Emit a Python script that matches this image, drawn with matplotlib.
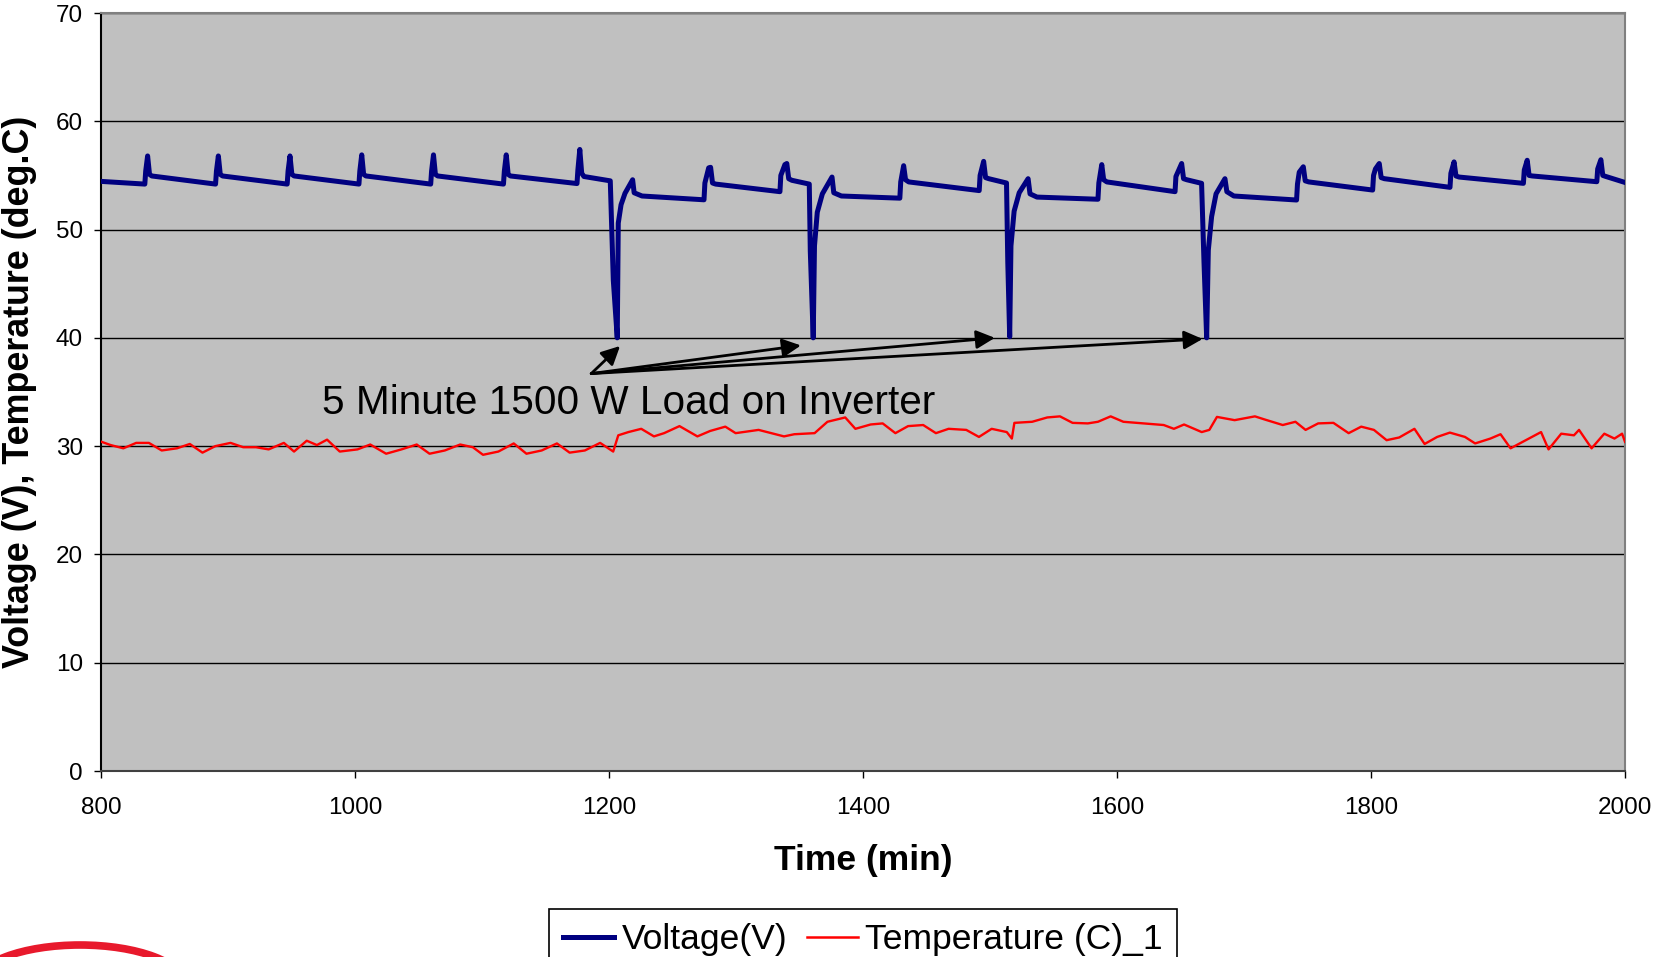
import matplotlib
matplotlib.use("Agg")
import matplotlib.pyplot as plt
from matplotlib.patches import Ellipse

plt.rcParams['font.family'] = ['Liberation Sans', 'DejaVu Sans']

# voltage trace, vertices
volt_time = [
    800, 834.5, 835.2, 836.7, 838.2, 840,
    890.2, 890.9, 892.4, 893.9, 895.7,
    946.6, 947.3, 948.8, 950.3, 952.1,
    1003.1, 1003.8, 1005.3, 1006.8, 1008.6,
    1059.6, 1060.3, 1061.8, 1063.3, 1065.1,
    1116.9, 1117.6, 1119.1, 1120.6, 1122.4,
    1174.8, 1175.5, 1177, 1178.5, 1180.3, 1201,
    1203.4, 1206.5, 1207.3, 1209.5, 1212.6, 1218.6, 1219.8, 1226,
    1274.8, 1275.5, 1278.5, 1280, 1281.5, 1284,
    1334.6, 1335.3, 1338.5, 1340, 1341.5, 1344, 1357.7,
    1358.5, 1360.8, 1361.8, 1364, 1368, 1375.6, 1377, 1383,
    1429, 1429.7, 1432, 1433.5, 1436,
    1491.5, 1492.2, 1495, 1496.5, 1499, 1513,
    1514, 1515.5, 1516.5, 1519, 1523, 1530, 1531.5, 1537,
    1585, 1585.7, 1588, 1589.5, 1592,
    1645.7, 1646.4, 1650.9, 1652.4, 1655, 1666.6,
    1668.5, 1670.6, 1671.9, 1674.5, 1678, 1685, 1686.5, 1692,
    1741.4, 1742.1, 1743.5, 1746.7, 1748.2, 1751,
    1801.3, 1802, 1803.5, 1806.5, 1808, 1810.5,
    1862.2, 1862.9, 1865.4, 1866.9, 1869.4,
    1920, 1920.7, 1923, 1924.5, 1927,
    1977.8, 1978.5, 1981, 1982.5, 1985, 2000,
]
volt_value = [
    54.45, 54.2, 55.4, 56.8, 55.1, 54.95,
    54.2, 55.4, 56.8, 55.1, 54.95,
    54.2, 55.4, 56.8, 55.1, 54.95,
    54.2, 55.4, 56.9, 55.1, 54.95,
    54.2, 55.4, 56.9, 55.1, 54.95,
    54.2, 55.4, 56.9, 55.1, 54.95,
    54.25, 55.5, 57.4, 55.2, 54.9, 54.5,
    45.3, 40.0, 50.6, 52.3, 53.35, 54.6, 53.4, 53.1,
    52.75, 54.3, 55.7, 55.75, 54.3, 54.2,
    53.5, 55.0, 56.0, 56.1, 54.7, 54.55, 54.2,
    48.0, 40.0, 48.5, 51.6, 53.3, 54.85, 53.4, 53.1,
    52.9, 54.4, 55.9, 54.6, 54.4,
    53.6, 55.0, 56.3, 54.8, 54.7, 54.3,
    47.0, 40.1, 48.5, 51.7, 53.4, 54.7, 53.3, 53.0,
    52.8, 54.3, 56.0, 54.6, 54.4,
    53.5, 54.9, 56.1, 54.7, 54.6, 54.27,
    47.0, 40.0, 48.1, 51.2, 53.3, 54.7, 53.5, 53.1,
    52.73, 54.2, 55.3, 55.8, 54.5, 54.4,
    53.65, 55.0, 55.6, 56.1, 54.8, 54.7,
    53.9, 55.2, 56.25, 54.95, 54.85,
    54.27, 55.5, 56.4, 55.0, 54.95,
    54.42, 55.6, 56.45, 55.0, 54.9, 54.35,
]

# temperature trace
temp_time = [
    800.4, 807.6, 817.6, 827.7, 837.7, 847.8, 859.8, 869.9, 879.9, 890,
    902, 912, 922, 932, 944, 952, 962, 970, 978, 988,
    1002, 1012, 1024.5, 1036.6, 1048.6, 1058.7, 1070.7, 1082.8, 1092.8, 1100.8,
    1112.9, 1125, 1135, 1147, 1159, 1169, 1181, 1193, 1203.3, 1207.3,
    1215.3, 1225.4, 1235.4, 1243.4, 1255.5, 1269.6, 1279.6, 1291.6, 1299.7, 1305.7,
    1317.8, 1327.8, 1337.8, 1345.9, 1361.9, 1372, 1386, 1394, 1406, 1415.5,
    1425.5, 1435.5, 1447.4, 1457.4, 1467.4, 1481.3, 1491.3, 1501.3, 1513.2, 1517.2,
    1519.2, 1533.2, 1545.1, 1555.1, 1565, 1577, 1585, 1595, 1605, 1620.9,
    1636.8, 1644.8, 1652.8, 1666.7, 1672.7, 1678.7, 1692.6, 1708.6, 1716.6, 1730.5,
    1740.5, 1748.5, 1758.4, 1770.4, 1782.4, 1792.3, 1802.3, 1812.3, 1822.2, 1834.2,
    1842.2, 1852.1, 1862.1, 1874, 1882, 1894, 1902, 1909.9, 1921.9, 1933.9,
    1939.8, 1949.8, 1959.8, 1963.8, 1973.7, 1983.7, 1991.7, 1997.7, 2000,
]
temp_value = [
    30.4, 30.1, 29.8, 30.3, 30.3, 29.6, 29.8, 30.2, 29.4, 30.0,
    30.3, 29.9, 29.9, 29.7, 30.3, 29.5, 30.5, 30.1, 30.6, 29.5,
    29.7, 30.15, 29.3, 29.7, 30.15, 29.3, 29.6, 30.15, 29.9, 29.2,
    29.5, 30.25, 29.3, 29.6, 30.25, 29.4, 29.6, 30.3, 29.5, 31.0,
    31.3, 31.6, 30.9, 31.2, 31.85, 30.9, 31.4, 31.8, 31.2, 31.3,
    31.5, 31.2, 30.9, 31.1, 31.2, 32.25, 32.65, 31.6, 32.0, 32.1,
    31.2, 31.85, 31.95, 31.2, 31.6, 31.5, 30.85, 31.6, 31.3, 30.7,
    32.15, 32.25, 32.65, 32.75, 32.15, 32.1, 32.25, 32.75, 32.25, 32.1,
    31.95, 31.6, 32.0, 31.3, 31.5, 32.7, 32.4, 32.75, 32.45, 31.95,
    32.25, 31.5, 32.1, 32.15, 31.2, 31.8, 31.5, 30.55, 30.8, 31.6,
    30.2, 30.85, 31.25, 30.85, 30.25, 30.7, 31.1, 29.8, 30.55, 31.3,
    29.7, 31.15, 31.0, 31.5, 29.8, 31.15, 30.7, 31.15, 30.4,
]

# arrow tips at the bottom of each load dip, and the common origin
arrow_origin = (1186, 36.7)
arrow_tips = [(1208.7, 39.25), (1351.1, 39.3), (1503.8, 40.0), (1667.4, 39.9)]

fig = plt.figure(figsize=(16.54, 9.57), dpi=100)
ax = fig.add_axes([101 / 1654, 1 - 771 / 957, 1524 / 1654, 758 / 957])
ax.set_facecolor('#C0C0C0')

ax.plot(volt_time, volt_value, color='#000080', lw=3.6, label='Voltage(V)', zorder=3,
        solid_joinstyle='round')
ax.plot(temp_time, temp_value, color='#FF0000', lw=1.7, label='Temperature (C)_1', zorder=3)

ax.set_xlim(800, 2000)
ax.set_ylim(0, 70)
ax.set_xticks(range(800, 2001, 200))
ax.set_yticks(range(0, 71, 10))
ax.yaxis.grid(True, color='black', lw=1.0)
ax.set_axisbelow(True)
ax.tick_params(axis='both', direction='out', length=5, width=1, labelsize=17.5)
ax.tick_params(axis='y', pad=8)
ax.tick_params(axis='x', pad=14)

ax.spines['left'].set_color('black')
ax.spines['bottom'].set_color('#404040')
ax.spines['top'].set_color('#808080')
ax.spines['right'].set_color('#808080')
for s in ax.spines.values():
    s.set_linewidth(1.5)

ax.set_xlabel('Time (min)', fontsize=25.5, fontweight='bold', va='center')
ax.xaxis.set_label_coords(0.5, -0.118)
ax.set_ylabel('Voltage (V), Temperature (deg.C)', fontsize=25.8, fontweight='bold', va='center')
ax.yaxis.set_label_coords(-0.0535, 0.5)

for tip in arrow_tips:
    ax.annotate('', xy=tip, xytext=arrow_origin,
                arrowprops=dict(arrowstyle='-|>', color='black', lw=2,
                                mutation_scale=28, shrinkA=0, shrinkB=0), zorder=4)
ax.text(1215.5, 33.95, '5 Minute 1500 W Load on Inverter', fontsize=29.2,
        ha='center', va='center', zorder=4)

leg = ax.legend(loc='upper center', bbox_to_anchor=(863 / 1654, 1 - 909 / 957),
                bbox_transform=fig.transFigure, ncol=2, fontsize=25.5, frameon=True,
                fancybox=False, framealpha=1, edgecolor='black', borderpad=0.4,
                handlelength=1.45, handletextpad=0.2, columnspacing=0.55,
                borderaxespad=0)
leg.get_frame().set_linewidth(1.2)
for line in leg.get_lines():
    line.set_linewidth(3.6 if line.get_color() == '#000080' else 1.8)

# partial red logo ring at the bottom-left corner
fig.add_artist(Ellipse((0.80, -0.28), 2.1, 0.8, transform=fig.dpi_scale_trans,
                       fill=False, edgecolor='#E8192C', lw=5.5))

fig.savefig('out.png', dpi=100)
